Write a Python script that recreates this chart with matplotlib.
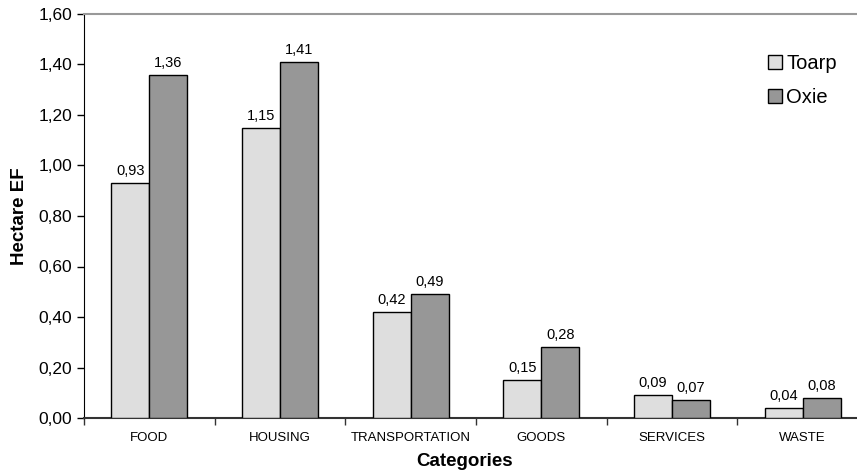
import numpy as np
import matplotlib
matplotlib.use("Agg")
import matplotlib.pyplot as plt
from matplotlib.ticker import FuncFormatter, MultipleLocator, FixedLocator

plt.rcParams['font.family'] = ['Liberation Sans', 'DejaVu Sans']

categories = ['FOOD', 'HOUSING', 'TRANSPORTATION', 'GOODS', 'SERVICES', 'WASTE']
toarp = [0.93, 1.15, 0.42, 0.15, 0.09, 0.04]
oxie = [1.36, 1.41, 0.49, 0.28, 0.07, 0.08]
series_names = ['Toarp', 'Oxie']
series_colors = ['#dedede', '#979797']


def comma(v, pos=None):
    return f'{v:.2f}'.replace('.', ',')


fig = plt.figure(figsize=(8.57, 4.76), dpi=100)
# the plot area runs a bit past the right edge, like the cropped original
ax = fig.add_axes([84 / 857, 58 / 476, 784 / 857, 404 / 476])

x = np.arange(len(categories))
w = 0.29
bars = []
for i, (vals, col) in enumerate(zip([toarp, oxie], series_colors)):
    b = ax.bar(x + (i - 0.5) * w, vals, w, color=col, edgecolor='black',
               linewidth=1.0, label=series_names[i], zorder=3)
    bars.append(b)
    for rect, v in zip(b, vals):
        ax.text(rect.get_x() + rect.get_width() / 2, v + 0.02, comma(v),
                ha='center', va='bottom', fontsize=10.5)

ax.set_xlim(-0.5, len(categories) - 0.5)
ax.set_ylim(0, 1.6)
ax.yaxis.set_major_locator(MultipleLocator(0.2))
ax.yaxis.set_major_formatter(FuncFormatter(comma))
ax.tick_params(axis='y', labelsize=12.5, length=5, width=1, direction='out')

ax.set_xticks(x)
ax.set_xticklabels(categories, fontsize=9.5)
ax.tick_params(axis='x', which='major', length=0, pad=10)
ax.xaxis.set_minor_locator(FixedLocator(np.arange(-0.5, len(categories), 1.0)))
ax.tick_params(axis='x', which='minor', length=5, width=1, color='#333333')

ax.spines['right'].set_visible(False)
ax.spines['top'].set_color('#999999')
ax.spines['top'].set_linewidth(1.5)
ax.spines['left'].set_color('black')
ax.spines['bottom'].set_color('#333333')
ax.spines['bottom'].set_linewidth(1.5)

ax.set_ylabel('Hectare EF', fontsize=13.5, fontweight='bold')
ax.yaxis.set_label_coords(-56 / 784, 0.5)
ax.set_xlabel('Categories', fontsize=13.5, fontweight='bold')
ax.xaxis.set_label_coords(0.485, -35 / 404)

fig.legend(handles=bars, labels=series_names, loc='upper left',
           bbox_to_anchor=(750 / 857, 1 - 36 / 476), frameon=False,
           fontsize=14.5, handlelength=0.7, handleheight=0.7,
           handletextpad=0.2, labelspacing=0.75)

fig.savefig('out.png', dpi=100)
